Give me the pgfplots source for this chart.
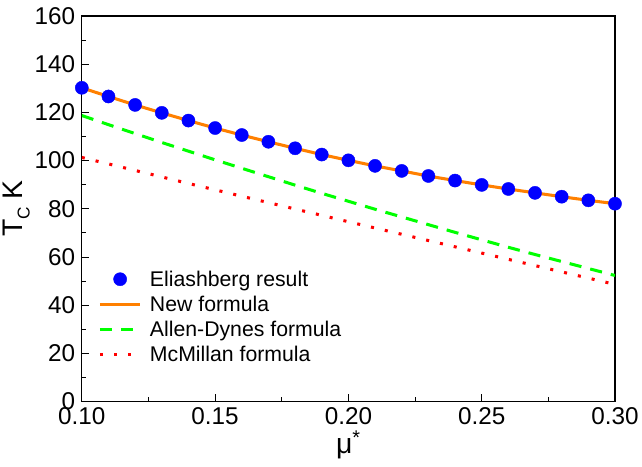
\documentclass[border=0pt]{standalone}
\usepackage{fontspec}
\setmainfont{Liberation Sans}
\usepackage{pgfplots}
\pgfplotsset{compat=1.18}

\definecolor{orangeln}{RGB}{255,128,0}
\definecolor{greenln}{RGB}{0,255,0}
\definecolor{redln}{RGB}{255,0,0}
\definecolor{bluept}{RGB}{0,0,255}

\pgfplotsset{
  lineleg/.style={legend image code/.code={\draw[##1] (0pt,0pt) -- (40pt,0pt); \path (46pt,0pt);}},
  dotleg/.style={legend image code/.code={\draw[##1] plot coordinates {(20pt,0pt)}; \path (0pt,0pt) (46pt,0pt);}},
}

\begin{document}
\begin{tikzpicture}
\begin{axis}[
    scale only axis,
    width=527pt, height=381pt,
    xmin=0.1, xmax=0.3, ymin=0, ymax=160,
    xtick={0.10,0.15,0.20,0.25,0.30},
    ytick={0,20,...,160},
    minor x tick num=1,
    minor y tick num=1,
    tick align=inside,
    xtick pos=left, ytick pos=left,
    major tick length=7pt, minor tick length=4pt,
    every tick/.style={black, line width=0.8pt},
    axis line style={line width=1.2pt},
    /pgf/number format/assume math mode=true,
    xticklabel style={/pgf/number format/fixed, /pgf/number format/fixed zerofill, /pgf/number format/precision=2},
    tick label style={font=\fontsize{24}{26}\selectfont},
    xticklabel shift=2pt, yticklabel shift=3pt,
    xlabel={μ\textsuperscript{*}},
    ylabel={T\raisebox{-0.45ex}{\fontsize{17}{18}\selectfont C} K},
    label style={font=\fontsize{28}{30}\selectfont},
    xlabel style={yshift=0pt},
    ylabel style={yshift=-2pt},
    legend style={draw=none, fill=none, at={(0.025,0.088)}, anchor=south west,
        font=\fontsize{21}{24}\selectfont, row sep=4.2pt},
    legend cell align=left,
    lineleg,
]
\addplot[only marks, mark=*, mark size=6.5pt, color=bluept, dotleg]
coordinates {
(0.10,130.2) (0.11,126.6) (0.12,123.1) (0.13,119.8) (0.14,116.6)
(0.15,113.5) (0.16,110.6) (0.17,107.8) (0.18,105.1) (0.19,102.5)
(0.20,100.1) (0.21,97.8) (0.22,95.7) (0.23,93.6) (0.24,91.7)
(0.25,89.9) (0.26,88.2) (0.27,86.6) (0.28,85.0) (0.29,83.5) (0.30,82.1)
};
\addlegendentry{Eliashberg result}
\addplot[color=orangeln, line width=3pt, smooth] coordinates {
(0.10,130.2) (0.11,126.6) (0.12,123.1) (0.13,119.8) (0.14,116.6)
(0.15,113.5) (0.16,110.6) (0.17,107.8) (0.18,105.1) (0.19,102.5)
(0.20,100.1) (0.21,97.8) (0.22,95.7) (0.23,93.6) (0.24,91.7)
(0.25,89.9) (0.26,88.2) (0.27,86.6) (0.28,85.0) (0.29,83.5) (0.30,82.1)
};
\addlegendentry{New formula}
\addplot[color=greenln, line width=3pt, dash pattern=on 12pt off 9pt] coordinates {
(0.10,118.7) (0.11,114.9) (0.12,111.2) (0.13,107.5) (0.14,103.9)
(0.15,100.3) (0.16,96.8) (0.17,93.3) (0.18,89.8) (0.19,86.4)
(0.20,83.1) (0.21,79.8) (0.22,76.6) (0.23,73.4) (0.24,70.2)
(0.25,67.1) (0.26,64.0) (0.27,61.0) (0.28,58.1) (0.29,55.2) (0.30,52.3)
};
\addlegendentry{Allen-Dynes formula}
\addplot[color=redln, line width=3pt, dash pattern=on 3pt off 11pt] coordinates {
(0.10,101.3) (0.12,95.9) (0.14,90.5) (0.16,85.2) (0.18,79.9)
(0.20,74.6) (0.22,69.4) (0.24,64.2) (0.26,59.0) (0.28,53.8) (0.30,48.6)
};
\addlegendentry{McMillan formula}
\end{axis}
\path ([yshift=4pt]current bounding box.north) ([yshift=-4pt]current bounding box.south);
\end{tikzpicture}
\end{document}
